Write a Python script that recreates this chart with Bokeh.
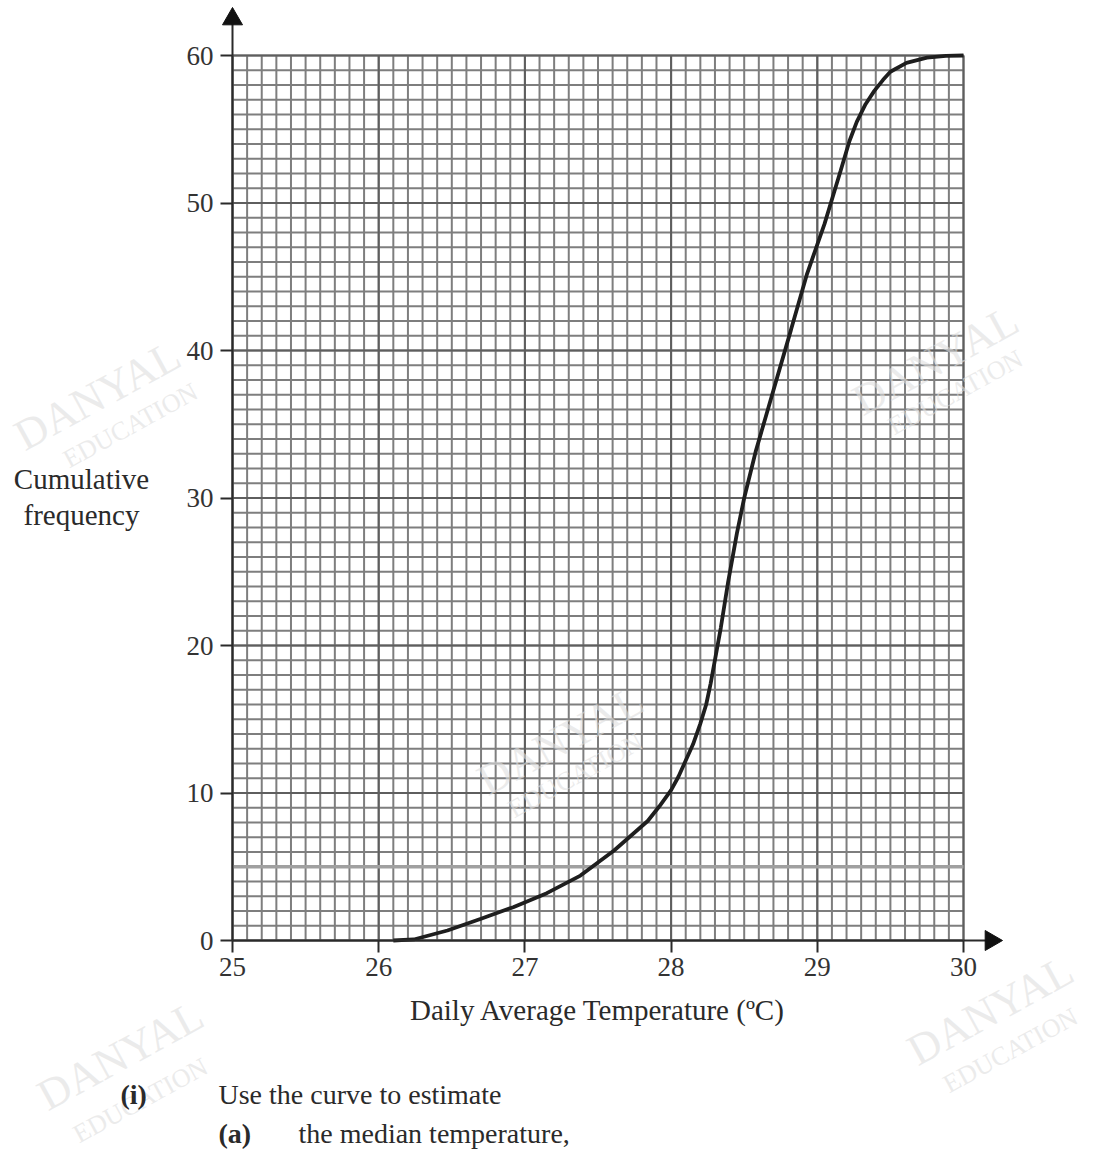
import numpy as np
from bokeh.plotting import figure
from bokeh.models import Range1d, SingleIntervalTicker, Label, LinearAxis
from bokeh.embed import file_html
from bokeh.resources import INLINE

# ---- data ----
temperature = [26.10, 26.24, 26.47, 26.70, 26.92, 27.15, 27.38, 27.61, 27.84, 27.92,
               28.00, 28.05, 28.10, 28.15, 28.20, 28.24, 28.27, 28.34, 28.39, 28.45,
               28.50, 28.58, 28.70, 28.82, 28.93, 29.05, 29.16, 29.22, 29.27, 29.33,
               29.39, 29.45, 29.50, 29.61, 29.75, 29.88, 30.00]
cum_freq = [0.0, 0.07, 0.68, 1.47, 2.26, 3.21, 4.4, 6.1, 8.1, 9.1,
            10.2, 11.1, 12.2, 13.3, 14.7, 16.0, 17.4, 21.2, 24.3, 27.6,
            30.0, 33.2, 37.3, 41.4, 45.2, 48.6, 52.2, 54.2, 55.5, 56.7,
            57.6, 58.35, 58.9, 59.5, 59.85, 59.97, 60.0]
x_min, x_max = 25, 30
y_min, y_max = 0, 60
x_title = "Daily Average Temperature (ºC)"
y_title = ["Cumulative", "frequency"]
question_lines = [("(i)", "Use the curve to estimate"), ("(a)", "the median temperature,")]

SERIF = "Liberation Serif"
INK = "#2a2a2a"

# frame placement of the graph-paper area in pixels
FL, FR, FT, FB = 232, 963, 55, 940
W, H = 1102, 1166
ux = (FR - FL) / (x_max - x_min)
uy = (FB - FT) / (y_max - y_min)

def px2x(px):
    return x_min + (px - FL) / ux

def py2y(py):
    return y_min + (FB - py) / uy

p = figure(width=W, height=H,
           x_range=Range1d(px2x(0), px2x(W)), y_range=Range1d(py2y(H), py2y(0)),
           output_backend="svg", toolbar_location=None, title=None,
           x_axis_type=None, y_axis_type=None, min_border=0)
p.outline_line_color = None
p.background_fill_color = "white"
p.border_fill_color = "white"
p.xgrid.visible = False
p.ygrid.visible = False

# ---- graph paper grid ----
xs_minor = np.round(np.arange(x_min, x_max + 1e-9, 0.1), 2)
ys_minor = np.arange(y_min, y_max + 1, 1)
xs_major = np.arange(x_min, x_max + 1, 1)
ys_major = np.arange(y_min, y_max + 1, 10)
grid_c, grid_w = "#7e7e7e", 2
p.segment(x0=xs_minor, y0=y_min, x1=xs_minor, y1=y_max, line_color=grid_c, line_width=grid_w)
p.segment(x0=x_min, y0=ys_minor, x1=x_max, y1=ys_minor, line_color=grid_c, line_width=grid_w)
p.segment(x0=xs_major, y0=y_min, x1=xs_major, y1=y_max, line_color="#5e5e5e", line_width=2)
p.segment(x0=x_min, y0=ys_major, x1=x_max, y1=ys_major, line_color="#5e5e5e", line_width=2)
p.segment(x0=x_min, y0=[5], x1=x_max, y1=[5], line_color="#a0a0a0", line_width=3.5)

# ---- watermarks ----
marks = [(97, 395, 130, 425), (935, 360, 955, 392), (560, 740, 575, 775),
         (120, 1055, 140, 1100), (990, 1010, 1010, 1050)]
for dx, dy, ex, ey in marks:
    p.add_layout(Label(x=px2x(dx), y=py2y(dy), text="DANYAL", text_font=SERIF,
                       text_font_size="44px", text_color="#dedede", text_alpha=0.6,
                       text_align="center", text_baseline="middle", angle=0.5))
    p.add_layout(Label(x=px2x(ex), y=py2y(ey), text="EDUCATION", text_font=SERIF,
                       text_font_size="26px", text_color="#dedede", text_alpha=0.6,
                       text_align="center", text_baseline="middle", angle=0.5))

# ---- curve ----
p.line(temperature, cum_freq, line_color="#1e1e1e", line_width=3.8)

# ---- axes ----
xaxis = LinearAxis(fixed_location=y_min, bounds=(x_min, x_max),
                   ticker=SingleIntervalTicker(interval=1))
yaxis = LinearAxis(fixed_location=x_min, bounds=(y_min, y_max),
                   ticker=SingleIntervalTicker(interval=10))
for ax in (xaxis, yaxis):
    ax.axis_line_color = INK
    ax.axis_line_width = 2
    ax.major_tick_in = 0
    ax.major_tick_out = 12
    ax.major_tick_line_color = INK
    ax.major_tick_line_width = 2
    ax.minor_tick_line_color = None
    ax.major_label_text_font = SERIF
    ax.major_label_text_font_size = "27px"
    ax.major_label_text_color = "#333333"
xaxis.major_label_standoff = 5
yaxis.major_label_standoff = 7
xaxis.axis_label = x_title
xaxis.axis_label_text_font = SERIF
xaxis.axis_label_text_font_style = "normal"
xaxis.axis_label_text_font_size = "29px"
xaxis.axis_label_text_color = INK
xaxis.axis_label_standoff = 15
p.add_layout(xaxis, "below")
p.add_layout(yaxis, "left")

# axis arrows: shafts and heads
y_tip, x_tip = py2y(7), px2x(1002)
p.segment(x0=[x_min, x_max], y0=[y_max, y_min], x1=[x_min, x_tip - 0.05], y1=[y_tip - 1, y_min],
          line_color=INK, line_width=2)
head = 20
h = head * np.sqrt(3) / 2
p.scatter(x=[x_min], y=[py2y(7 + 2 * h / 3)], marker="triangle", size=head,
          fill_color="#111111", line_color="#111111", angle=0)
p.scatter(x=[px2x(1002 - 2 * h / 3)], y=[y_min], marker="triangle", size=head,
          fill_color="#111111", line_color="#111111", angle=-np.pi / 2)

# ---- y title ----
for i, t in enumerate(y_title):
    p.add_layout(Label(x=px2x(81), y=py2y(478 + 36 * i), text=t, text_font=SERIF,
                       text_font_size="29px", text_color=INK, text_align="center",
                       text_baseline="middle"))

# ---- question text ----
p.add_layout(Label(x=px2x(120), y=py2y(1094), text=question_lines[0][0], text_font=SERIF,
                   text_font_style="bold", text_font_size="28px", text_color=INK,
                   text_baseline="middle"))
p.add_layout(Label(x=px2x(218), y=py2y(1094), text=question_lines[0][1], text_font=SERIF,
                   text_font_size="28px", text_color=INK, text_baseline="middle"))
p.add_layout(Label(x=px2x(218), y=py2y(1133), text=question_lines[1][0], text_font=SERIF,
                   text_font_style="bold", text_font_size="28px", text_color=INK,
                   text_baseline="middle"))
p.add_layout(Label(x=px2x(298), y=py2y(1133), text=question_lines[1][1], text_font=SERIF,
                   text_font_size="28px", text_color=INK, text_baseline="middle"))

open("out.html", "w").write(file_html(p, INLINE))
